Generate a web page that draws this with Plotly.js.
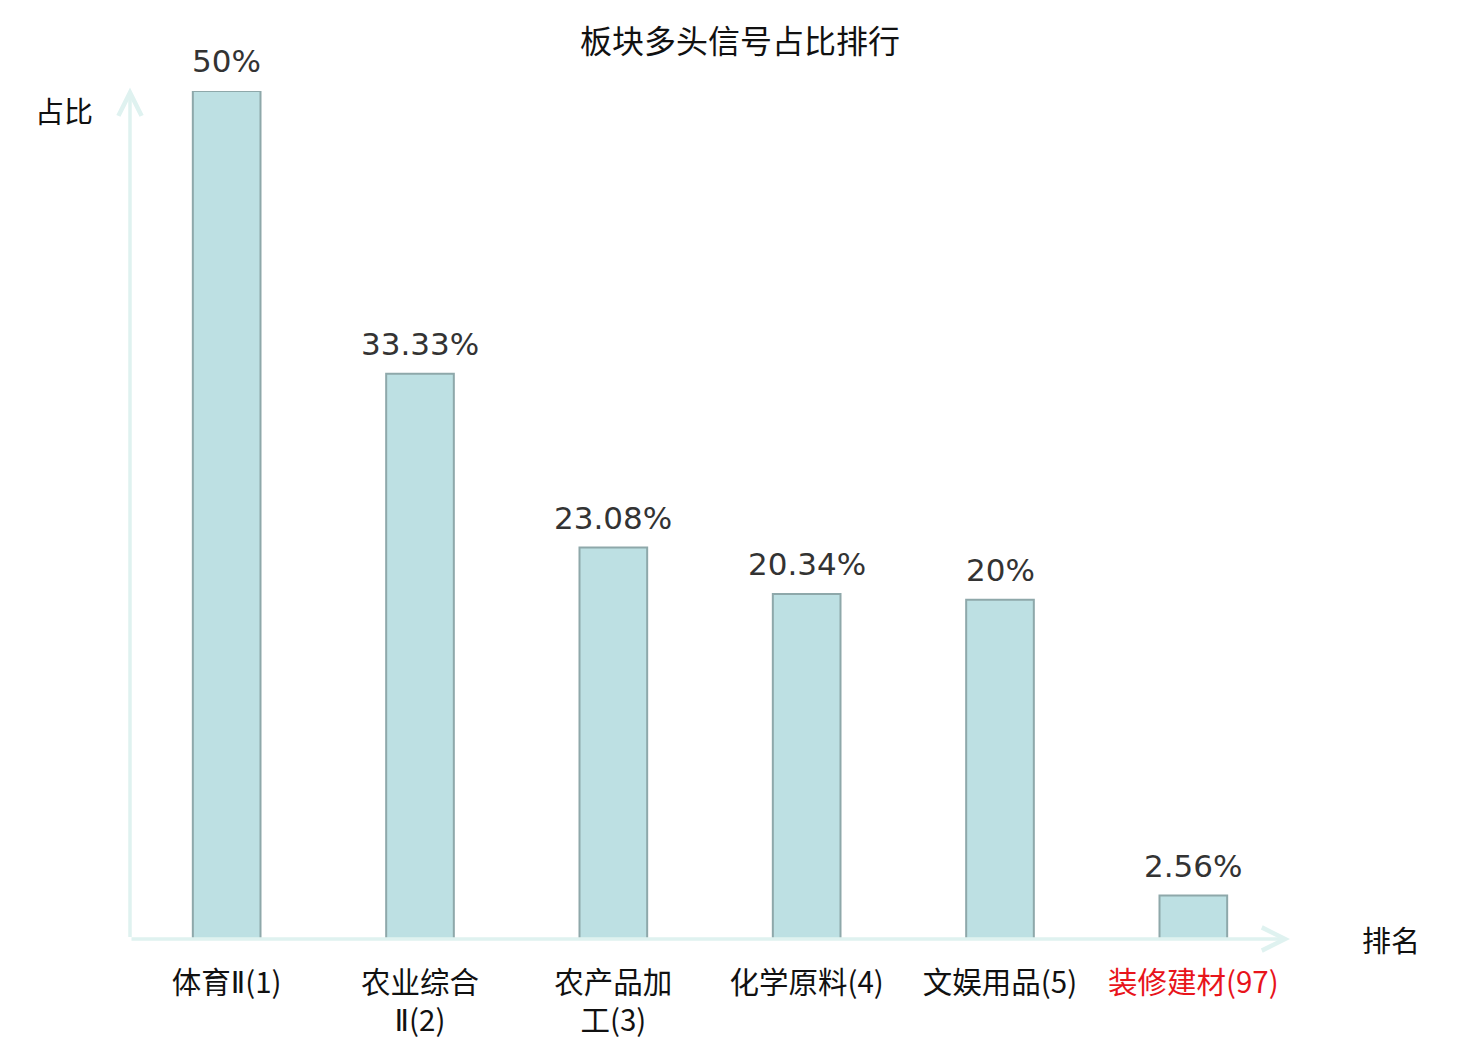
<!DOCTYPE html>
<html>
<head>
<meta charset="utf-8">
<script src="https://cdn.plot.ly/plotly-3.0.1.min.js"></script>
<style>
  html, body { margin: 0; padding: 0; background: #fff; }
  #chart { width: 1480px; height: 1040px; }
</style>
</head>
<body>
<div id="chart"></div>
<script>
// sector names (rank in brackets) and share of long signals, %
var sectors = ['体育Ⅱ(1)', '农业综合<br>Ⅱ(2)', '农产品加<br>工(3)', '化学原料(4)', '文娱用品(5)', '装修建材(97)'];
var shares = [50, 33.33, 23.08, 20.34, 20, 2.56];
var highlight = [false, false, false, false, false, true];

var cjk = '"Noto Sans CJK SC", "DejaVu Sans", sans-serif';
var axisColor = '#dff2f0';

var xs = [];
var tickText = [];
for (var i = 0; i < sectors.length; i++) {
  xs.push(i);
  // narrow roman numeral, like in the original
  var t = sectors[i].replace('Ⅱ', '<span style="font-family:DejaVu Sans">Ⅱ</span>');
  tickText.push(highlight[i] ? '<span style="color:#e8141b">' + t + '</span>' : t);
}

var data = [{
  type: 'bar',
  x: xs,
  y: shares,
  width: 0.35,
  marker: { color: '#bde0e3', line: { color: '#8ea8aa', width: 2 } },
  hoverinfo: 'none'
}];

var annotations = [
  // x axis with arrow
  { xref: 'paper', yref: 'paper', x: 1, y: 0, ax: -1160, ay: 0, axref: 'pixel', ayref: 'pixel',
    showarrow: true, arrowhead: 5, arrowsize: 1.3, arrowwidth: 3.5, arrowcolor: axisColor, text: '' },
  // y axis with arrow
  { xref: 'paper', yref: 'paper', x: 0, y: 1.004, ax: 0, ay: 851, axref: 'pixel', ayref: 'pixel',
    showarrow: true, arrowhead: 5, arrowsize: 1.3, arrowwidth: 3.5, arrowcolor: axisColor, text: '' },
  { xref: 'paper', yref: 'paper', x: -97 / 1160, y: 1 - 19 / 848, xanchor: 'left', yanchor: 'middle',
    showarrow: false, text: '占比', font: { family: cjk, size: 29, color: '#111111' } },
  { xref: 'paper', yref: 'paper', x: 1 + 70 / 1160, y: 0, xanchor: 'left', yanchor: 'middle',
    showarrow: false, text: '排名', font: { family: cjk, size: 29, color: '#111111' } }
];

// value labels above bars
for (var j = 0; j < shares.length; j++) {
  annotations.push({
    x: xs[j], y: shares[j], xref: 'x', yref: 'y',
    text: shares[j] + '%', showarrow: false,
    xanchor: 'center', yanchor: 'middle', yshift: 30,
    font: { family: '"DejaVu Sans", sans-serif', size: 31, color: '#333333' }
  });
}

var layout = {
  width: 1480,
  height: 1040,
  margin: { l: 130, r: 190, t: 91, b: 101 },
  paper_bgcolor: '#ffffff',
  plot_bgcolor: '#ffffff',
  showlegend: false,
  font: { family: cjk, color: '#111111' },
  title: {
    text: '板块多头信号占比排行',
    font: { family: cjk, size: 32, color: '#111111' },
    x: 0.5, xanchor: 'center',
    y: 1 - 42 / 1040, yanchor: 'middle'
  },
  xaxis: {
    range: [-0.5, 5.5],
    tickvals: xs,
    ticktext: tickText,
    tickfont: { family: cjk, size: 29.5, color: '#111111' },
    ticks: '',
    ticklabelstandoff: 23,
    showgrid: false,
    zeroline: false,
    showline: false,
    fixedrange: true
  },
  yaxis: {
    range: [0, 50],
    showticklabels: false,
    ticks: '',
    showgrid: false,
    zeroline: false,
    showline: false,
    fixedrange: true
  },
  annotations: annotations
};

Plotly.newPlot('chart', data, layout, { displayModeBar: false, staticPlot: true });
</script>
</body>
</html>
